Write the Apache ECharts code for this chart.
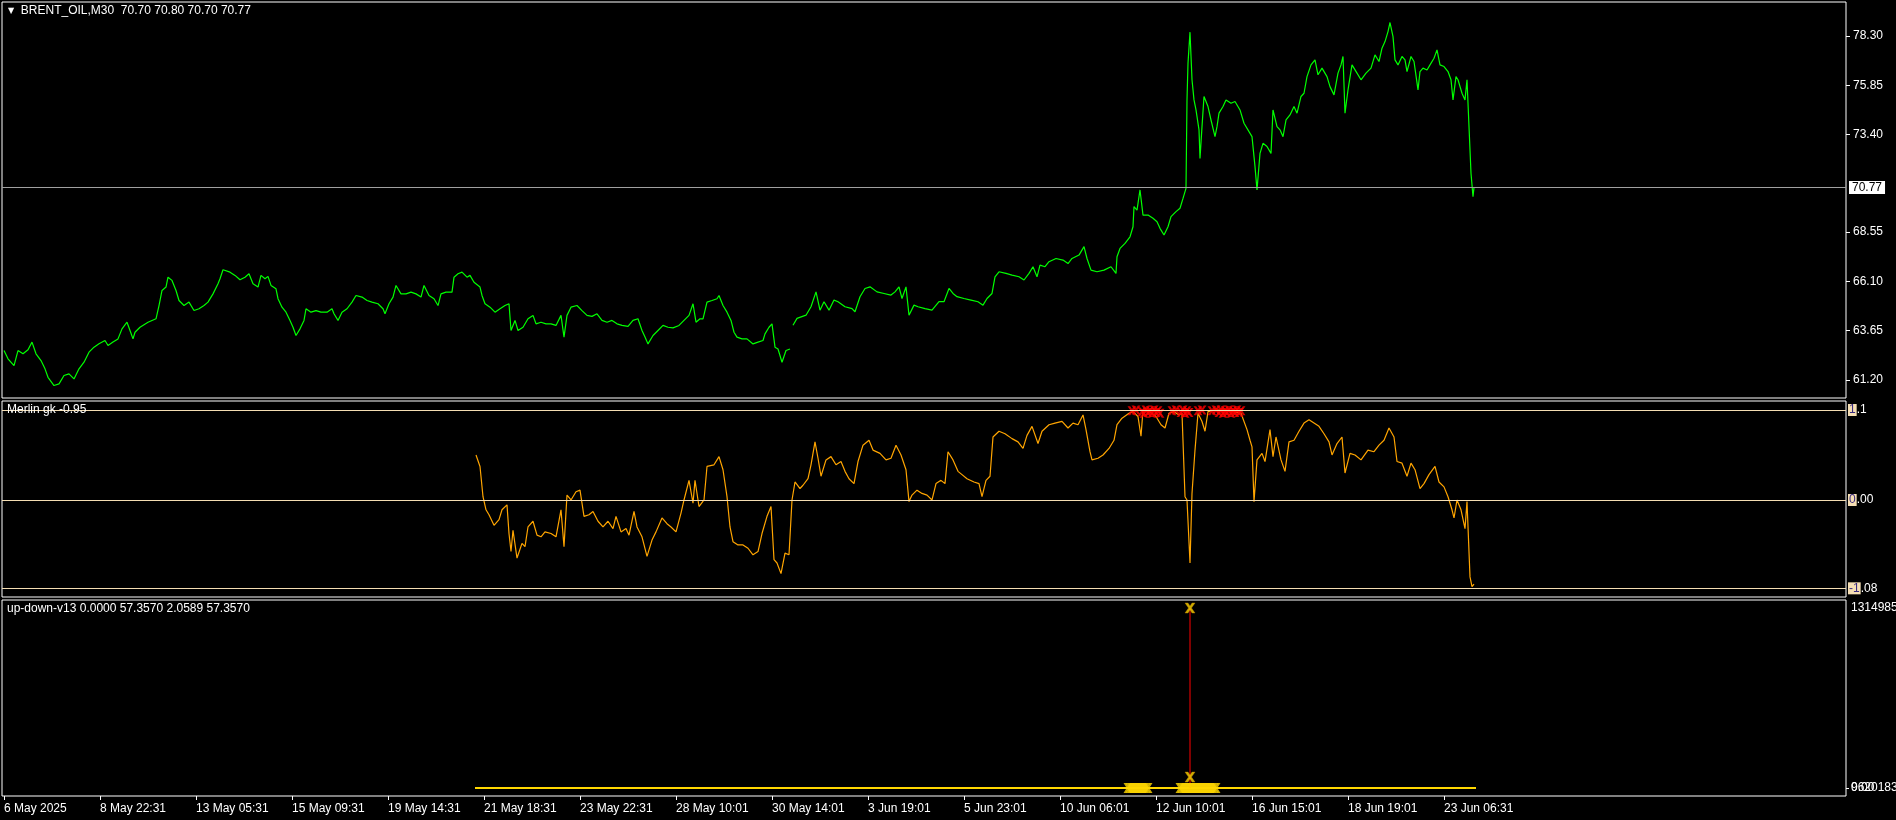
<!DOCTYPE html>
<html><head><meta charset="utf-8">
<script src="https://cdn.jsdelivr.net/npm/echarts@6/dist/echarts.min.js"></script>
<style>html,body{margin:0;padding:0;background:#000;}#c{width:1896px;height:820px;}</style>
</head><body><div id="c"></div>
<script>
// ---------- DATA ----------
const timeLabels = ['6 May 2025','8 May 22:31','13 May 05:31','15 May 09:31','19 May 14:31','21 May 18:31','23 May 22:31','28 May 10:01','30 May 14:01','3 Jun 19:01','5 Jun 23:01','10 Jun 06:01','12 Jun 10:01','16 Jun 15:01','18 Jun 19:01','23 Jun 06:31'];
const timeLabelBars = [0,96,192,288,384,480,576,672,768,864,960,1056,1152,1248,1344,1440];

const priceTicks = [61.20,63.65,66.10,68.55,73.40,75.85,78.30];
const lastPrice = 70.77;

const priceBars = [0,4,10,14,19,24,28,32,37,41,44,50,55,60,65,70,75,80,85,90,95,101,104,109,114,118,123,126,129,131,136,144,152,155,158,162,164,168,172,175,180,185,190,195,200,204,209,214,216,219,226,231,236,241,245,249,254,257,261,264,267,272,274,278,282,286,289,292,296,300,302,307,312,317,323,328,330,334,338,343,348,352,358,363,368,374,379,381,385,389,392,397,402,407,412,417,420,425,430,434,437,442,448,450,454,458,463,466,470,476,478,481,486,491,496,501,505,507,511,514,519,524,529,532,537,542,547,552,557,560,563,567,573,578,583,588,593,598,603,608,613,618,624,629,634,638,641,644,649,654,659,664,669,675,680,685,689,692,696,699,703,708,713,715,719,723,727,730,733,738,743,749,754,759,761,765,768,771,774,778,782,786,787,789,793,802,807,812,816,820,825,830,834,841,848,851,856,861,866,873,880,887,891,895,898,902,905,910,914,921,928,935,940,945,949,953,960,967,974,979,983,988,991,995,1002,1008,1015,1020,1025,1029,1033,1036,1041,1045,1052,1059,1064,1068,1075,1080,1083,1087,1093,1100,1107,1112,1113,1116,1121,1126,1129,1130,1133,1136,1139,1144,1149,1153,1156,1160,1164,1167,1172,1176,1179,1181,1182,1183,1184,1186,1188,1190,1192,1195,1196,1198,1200,1204,1207,1211,1213,1215,1219,1222,1227,1231,1236,1240,1245,1248,1251,1253,1256,1259,1263,1267,1269,1273,1276,1279,1282,1286,1290,1293,1297,1300,1303,1307,1311,1314,1318,1323,1326,1330,1334,1337,1339,1341,1344,1348,1353,1357,1362,1367,1371,1375,1378,1381,1384,1386,1389,1391,1394,1398,1401,1403,1407,1410,1414,1416,1419,1423,1426,1430,1433,1436,1440,1444,1447,1449,1452,1454,1458,1461,1463,1465,1467,1469,1470];
const priceVals = [62.66,62.25,61.91,62.66,62.50,62.70,63.08,62.50,62.16,61.75,61.33,60.92,61.00,61.42,61.50,61.25,61.75,62.08,62.58,62.83,63.00,63.16,62.91,63.08,63.24,63.74,64.07,63.66,63.24,63.57,63.82,64.07,64.24,64.90,65.65,65.82,66.31,66.15,65.65,65.15,64.90,65.07,64.65,64.74,64.90,65.07,65.48,65.98,66.23,66.68,66.56,66.40,66.18,66.31,66.48,65.98,65.82,66.40,66.23,66.35,65.90,65.73,65.24,64.82,64.57,64.16,63.82,63.41,63.74,64.16,64.74,64.57,64.65,64.57,64.57,64.74,64.49,64.16,64.57,64.74,65.07,65.40,65.32,65.15,65.07,64.99,64.74,64.49,64.99,65.32,65.90,65.48,65.48,65.57,65.48,65.32,65.90,65.40,65.24,64.90,65.48,65.57,65.57,66.31,66.48,66.56,66.31,66.40,66.06,65.82,65.40,64.99,64.82,64.57,64.74,64.90,64.99,63.66,64.16,63.66,63.82,64.24,64.41,63.99,64.07,63.99,63.99,63.91,64.41,63.33,64.41,64.82,64.90,64.65,64.41,64.36,64.49,64.16,64.07,64.16,63.99,63.91,63.86,64.16,64.24,63.66,63.33,62.99,63.41,63.66,63.91,63.82,63.79,63.91,64.16,64.41,64.99,64.07,64.24,64.24,65.07,65.15,65.24,65.40,64.90,64.57,64.16,63.57,63.33,63.24,63.24,62.99,63.08,63.16,63.49,63.82,63.99,62.83,62.74,62.08,62.66,62.74,null,63.92,64.26,64.42,64.84,65.58,64.67,65.09,64.67,65.17,65.09,64.84,64.75,64.59,65.34,65.75,65.83,65.58,65.50,65.42,65.58,65.83,65.25,65.83,64.42,64.92,64.84,64.75,64.67,65.09,65.09,65.75,65.50,65.34,65.25,65.17,65.09,64.92,65.25,65.50,66.33,66.58,66.50,66.41,66.33,66.17,66.50,66.83,66.33,66.91,66.83,67.08,67.24,67.16,66.99,67.24,67.41,67.83,67.24,66.66,66.58,66.66,66.83,66.50,67.33,67.74,67.99,68.32,68.82,69.82,69.65,70.65,69.40,69.40,69.24,69.07,68.74,68.41,68.82,69.32,69.57,69.74,70.23,70.32,70.73,75.13,76.96,78.50,76.13,75.13,74.63,73.64,72.22,73.80,75.30,74.80,74.13,73.30,73.80,74.47,74.80,75.13,74.96,75.05,74.63,73.97,73.55,73.30,71.81,70.65,72.47,72.97,72.81,72.47,74.63,73.80,73.64,73.30,74.13,74.38,74.80,74.47,75.30,75.46,76.29,76.87,77.12,76.38,76.71,76.29,75.79,75.38,76.46,76.87,77.29,74.47,75.63,76.87,76.46,76.13,76.46,76.71,77.37,77.04,77.70,78.03,78.53,78.98,78.28,77.12,76.87,77.29,77.12,76.54,77.29,77.04,75.63,76.54,76.71,76.62,76.87,77.20,77.62,76.87,76.79,76.54,76.13,75.13,76.29,76.13,75.46,75.13,76.13,73.80,71.48,70.32,70.77];

const oscBars = [472,476,479,482,485,490,495,498,503,505,507,509,513,518,521,524,529,533,537,541,547,552,557,560,563,567,572,576,580,585,589,594,599,604,609,612,617,622,625,630,633,638,643,648,652,658,663,667,672,677,680,685,689,691,695,700,703,710,715,719,723,726,729,734,739,744,749,754,758,763,767,770,773,777,781,785,788,791,796,799,804,807,811,814,817,822,827,832,837,841,845,850,854,859,865,869,876,882,887,892,897,902,905,908,913,918,923,928,932,937,941,944,949,954,958,963,970,975,978,982,986,989,995,1001,1008,1014,1019,1023,1028,1034,1038,1045,1051,1058,1064,1069,1074,1079,1082,1086,1088,1094,1099,1105,1110,1113,1118,1125,1129,1134,1137,1139,1146,1152,1157,1161,1165,1170,1175,1178,1181,1183,1186,1188,1191,1194,1198,1201,1204,1211,1220,1230,1237,1243,1246,1248,1250,1253,1258,1261,1266,1269,1272,1277,1281,1285,1290,1295,1300,1305,1310,1315,1320,1325,1328,1333,1338,1341,1346,1351,1357,1364,1370,1375,1380,1385,1390,1393,1398,1403,1407,1411,1416,1420,1425,1431,1435,1440,1444,1448,1450,1453,1457,1461,1463,1466,1468,1470];
const oscVals = [0.55,0.41,0.04,-0.12,-0.18,-0.31,-0.24,-0.12,-0.06,-0.41,-0.63,-0.37,-0.71,-0.53,-0.57,-0.33,-0.26,-0.43,-0.45,-0.39,-0.41,-0.45,-0.12,-0.57,0.06,0.00,0.10,0.12,-0.20,-0.18,-0.14,-0.26,-0.33,-0.26,-0.35,-0.20,-0.39,-0.35,-0.43,-0.14,-0.33,-0.45,-0.69,-0.49,-0.39,-0.22,-0.29,-0.33,-0.39,-0.16,0.00,0.24,-0.04,0.24,-0.08,0.00,0.41,0.43,0.53,0.37,0.04,-0.33,-0.51,-0.55,-0.55,-0.59,-0.67,-0.63,-0.41,-0.20,-0.08,-0.73,-0.77,-0.90,-0.65,-0.67,0.00,0.22,0.14,0.18,0.26,0.43,0.71,0.51,0.29,0.49,0.53,0.43,0.47,0.35,0.26,0.20,0.47,0.67,0.73,0.61,0.57,0.49,0.51,0.67,0.55,0.37,-0.02,0.06,0.12,0.08,0.06,0.00,0.20,0.24,0.20,0.59,0.49,0.35,0.31,0.26,0.22,0.20,0.04,0.24,0.29,0.77,0.84,0.81,0.75,0.71,0.63,0.79,0.90,0.69,0.84,0.92,0.94,0.96,0.88,0.94,0.92,1.04,0.86,0.59,0.49,0.51,0.55,0.63,0.73,0.92,1.00,1.06,1.08,1.02,0.78,1.10,1.08,1.02,0.92,0.88,1.06,1.08,1.04,1.06,0.04,0.00,-0.77,0.08,0.61,1.06,0.96,0.84,1.08,1.10,1.10,1.08,1.06,0.86,0.73,0.65,-0.02,0.49,0.57,0.47,0.86,0.53,0.77,0.49,0.35,0.71,0.73,0.84,0.94,0.98,0.94,0.90,0.81,0.71,0.55,0.69,0.77,0.33,0.57,0.55,0.49,0.61,0.59,0.67,0.73,0.88,0.77,0.47,0.45,0.29,0.45,0.37,0.14,0.20,0.31,0.41,0.22,0.16,0.04,-0.12,-0.22,0.00,-0.12,-0.35,-0.02,-0.94,-1.06,-1.03];
const oscLevels = [1.1, 0, -1.08];
const oscSignalBars = [1128,1132,1138,1140,1142,1144,1146,1148,1150,1152,1154,1156,1168,1172,1177,1179,1181,1183,1185,1194,1198,1208,1212,1215,1217,1219,1221,1223,1225,1227,1229,1231,1233,1235,1237];
const oscSignalVals = [1.09,1.10,1.08,1.06,1.10,1.07,1.09,1.06,1.10,1.07,1.09,1.06,1.09,1.10,1.07,1.10,1.06,1.09,1.07,1.09,1.10,1.09,1.10,1.07,1.10,1.06,1.09,1.07,1.10,1.06,1.09,1.07,1.10,1.07,1.09];

const udLineBars = [471,1472];
const udLineVals = [0,0];
const udBlobBars = [1124,1126,1128,1130,1132,1134,1136,1138,1140,1142,1144,1176,1178,1180,1182,1184,1186,1188,1190,1192,1194,1196,1198,1200,1202,1204,1206,1208,1210,1212];
const udBlobVals = [0,0,0,0,0,0,0,0,0,0,0,0,0,0,0,0,0,0,0,0,0,0,0,0,0,0,0,0,0,0];
const udSpikeBar = 1186;
const udSpikeTop = 1314985;
const udSpikeLow = 80000;
const udAxisTop = 1314985;

// ---------- CHART ----------
const FONT = 'Liberation Sans';
const WHITE = '#ffffff';
const XPATH = 'path://M1,0L5,4L9,0L10,1L6,5L10,9L9,10L5,6L1,10L0,9L4,5L0,1Z';
const XBOLD = 'path://M0,0L3,0L5,3L7,0L10,0L6.5,5L10,10L7,10L5,7L3,10L0,10L3.5,5Z';
const pair = (xs, ys) => xs.map((x, i) => [x, ys[i] === null ? '-' : ys[i]]);

const grids = [
  {left: 2, width: 1844, top: 2, height: 396},
  {left: 2, width: 1844, top: 401, height: 196},
  {left: 2, width: 1844, top: 600, height: 196}
].map(g => Object.assign(g, {show: true, borderColor: WHITE, borderWidth: 1, backgroundColor: 'transparent',
  containLabel: false, outerBoundsMode: 'none'}));

const xBase = {type: 'value', min: -2, max: 1842, axisLine: {show: false, onZero: false}, splitLine: {show: false}};
const xAxes = [
  Object.assign({gridIndex: 0, axisLabel: {show: false}, axisTick: {show: false}}, xBase),
  Object.assign({gridIndex: 1, axisLabel: {show: false}, axisTick: {show: false}}, xBase),
  Object.assign({gridIndex: 2, position: 'bottom',
    axisTick: {show: true, customValues: timeLabelBars, length: 4, inside: false, lineStyle: {color: WHITE}},
    axisLabel: {show: true, customValues: timeLabelBars, align: 'left', margin: 7, color: WHITE, fontFamily: FONT, fontSize: 12,
      formatter: v => timeLabels[timeLabelBars.indexOf(Math.round(v))] || ''}}, xBase)
];

const udMin = -udAxisTop * 8 / 180, udMax = udAxisTop * 188 / 180;
const yLine = {show: false, onZero: false};
const yAxes = [
  {gridIndex: 0, type: 'value', position: 'right', min: 60.30, max: 80.00, splitLine: {show: false}, axisLine: yLine,
   axisTick: {show: true, customValues: priceTicks, length: 4, lineStyle: {color: WHITE}},
   axisLabel: {customValues: priceTicks, margin: 7, color: WHITE, fontFamily: FONT, fontSize: 12, formatter: v => v.toFixed(2)}},
  {gridIndex: 1, type: 'value', position: 'right', min: -1.186, max: 1.21, splitLine: {show: false}, axisLine: yLine,
   axisTick: {show: false},
   axisLabel: {customValues: oscLevels, margin: 2, color: WHITE, fontFamily: FONT, fontSize: 12,
     formatter: v => { const s = v === 1.1 ? '1.1' : v.toFixed(2); const m = s.match(/^(-?\d)(.*)$/); return '{b|' + m[1] + '}' + m[2]; },
     rich: {b: {backgroundColor: '#f5deb3', color: '#3a2a80', fontFamily: FONT, fontSize: 12, padding: [0, 1]}}}},
  {gridIndex: 2, type: 'value', position: 'right', min: udMin, max: udMax, splitLine: {show: false}, axisLine: yLine,
   axisTick: {show: true, customValues: [0], length: 3, lineStyle: {color: WHITE}},
   axisLabel: {customValues: [udAxisTop, 0], margin: 5, color: WHITE, fontFamily: FONT, fontSize: 12,
     formatter: v => v === 0 ? '9620183' : String(v)}},
  {gridIndex: 2, type: 'value', position: 'right', min: udMin, max: udMax, splitLine: {show: false}, axisLine: yLine,
   axisTick: {show: false},
   axisLabel: {customValues: [0], margin: 5, color: WHITE, fontFamily: FONT, fontSize: 12, formatter: () => '0.00'}}
];

const option = {
  backgroundColor: '#000000',
  animation: false,
  textStyle: {fontFamily: FONT},
  title: [
    {text: '{t|▼}  BRENT_OIL,M30  70.70 70.80 70.70 70.77', left: 8, top: 5, padding: 0,
     textStyle: {color: WHITE, fontSize: 12, fontWeight: 'normal', fontFamily: FONT, rich: {t: {fontSize: 8, color: WHITE, fontFamily: 'DejaVu Sans'}}}},
    {text: 'Merlin gk -0.95', left: 7, top: 404, padding: 0, textStyle: {color: WHITE, fontSize: 12, fontWeight: 'normal', fontFamily: FONT}},
    {text: 'up-down-v13 0.0000 57.3570 2.0589 57.3570', left: 7, top: 603, padding: 0, textStyle: {color: WHITE, fontSize: 12, fontWeight: 'normal', fontFamily: FONT}}
  ],
  grid: grids,
  xAxis: xAxes,
  yAxis: yAxes,
  series: [
    {type: 'line', xAxisIndex: 0, yAxisIndex: 0, data: pair(priceBars, priceVals), showSymbol: false, symbol: 'none',
     connectNulls: false, lineStyle: {color: '#00ff00', width: 1.2}, z: 3,
     markLine: {silent: true, symbol: ['none', 'none'], lineStyle: {color: '#a0a0a0', width: 1, type: 'solid'},
       label: {show: true, position: 'end', distance: 3, formatter: lastPrice.toFixed(2), backgroundColor: '#ffffff', color: '#000000',
         fontFamily: FONT, fontSize: 12, padding: [1, 3, 0, 3]},
       data: [{yAxis: lastPrice}]}},
    {type: 'line', xAxisIndex: 1, yAxisIndex: 1, data: pair(oscBars, oscVals), showSymbol: false, symbol: 'none',
     lineStyle: {color: '#ffa500', width: 1.2}, z: 3,
     markLine: {silent: true, symbol: ['none', 'none'], lineStyle: {color: '#f5deb3', width: 1, type: 'solid'}, label: {show: false},
       data: oscLevels.map(v => ({yAxis: v}))}},
    {type: 'scatter', xAxisIndex: 1, yAxisIndex: 1, data: pair(oscSignalBars, oscSignalVals), symbol: XBOLD, symbolSize: 9,
     itemStyle: {color: '#ff0000'}, z: 4},
    {type: 'line', xAxisIndex: 2, yAxisIndex: 2, data: pair(udLineBars, udLineVals), showSymbol: false, symbol: 'none',
     lineStyle: {color: '#ffd700', width: 2}, z: 3},
    {type: 'scatter', xAxisIndex: 2, yAxisIndex: 2, data: pair(udBlobBars, udBlobVals), symbol: XBOLD, symbolSize: [9, 10],
     itemStyle: {color: '#ffd700'}, z: 4},
    {type: 'line', xAxisIndex: 2, yAxisIndex: 2, data: [[udSpikeBar, 0], [udSpikeBar, udSpikeTop]], showSymbol: false, symbol: 'none',
     lineStyle: {color: '#ff0000', width: 1}, z: 3},
    {type: 'scatter', xAxisIndex: 2, yAxisIndex: 2, data: [[udSpikeBar, udSpikeTop], [udSpikeBar, udSpikeLow]], symbol: XBOLD, symbolSize: 10,
     itemStyle: {color: '#ffd700', borderColor: '#c08000', borderWidth: 0.5}, z: 5}
  ]
};

const chart = echarts.init(document.getElementById('c'), null, {renderer: 'canvas'});
chart.setOption(option);
</script>
</body></html>
